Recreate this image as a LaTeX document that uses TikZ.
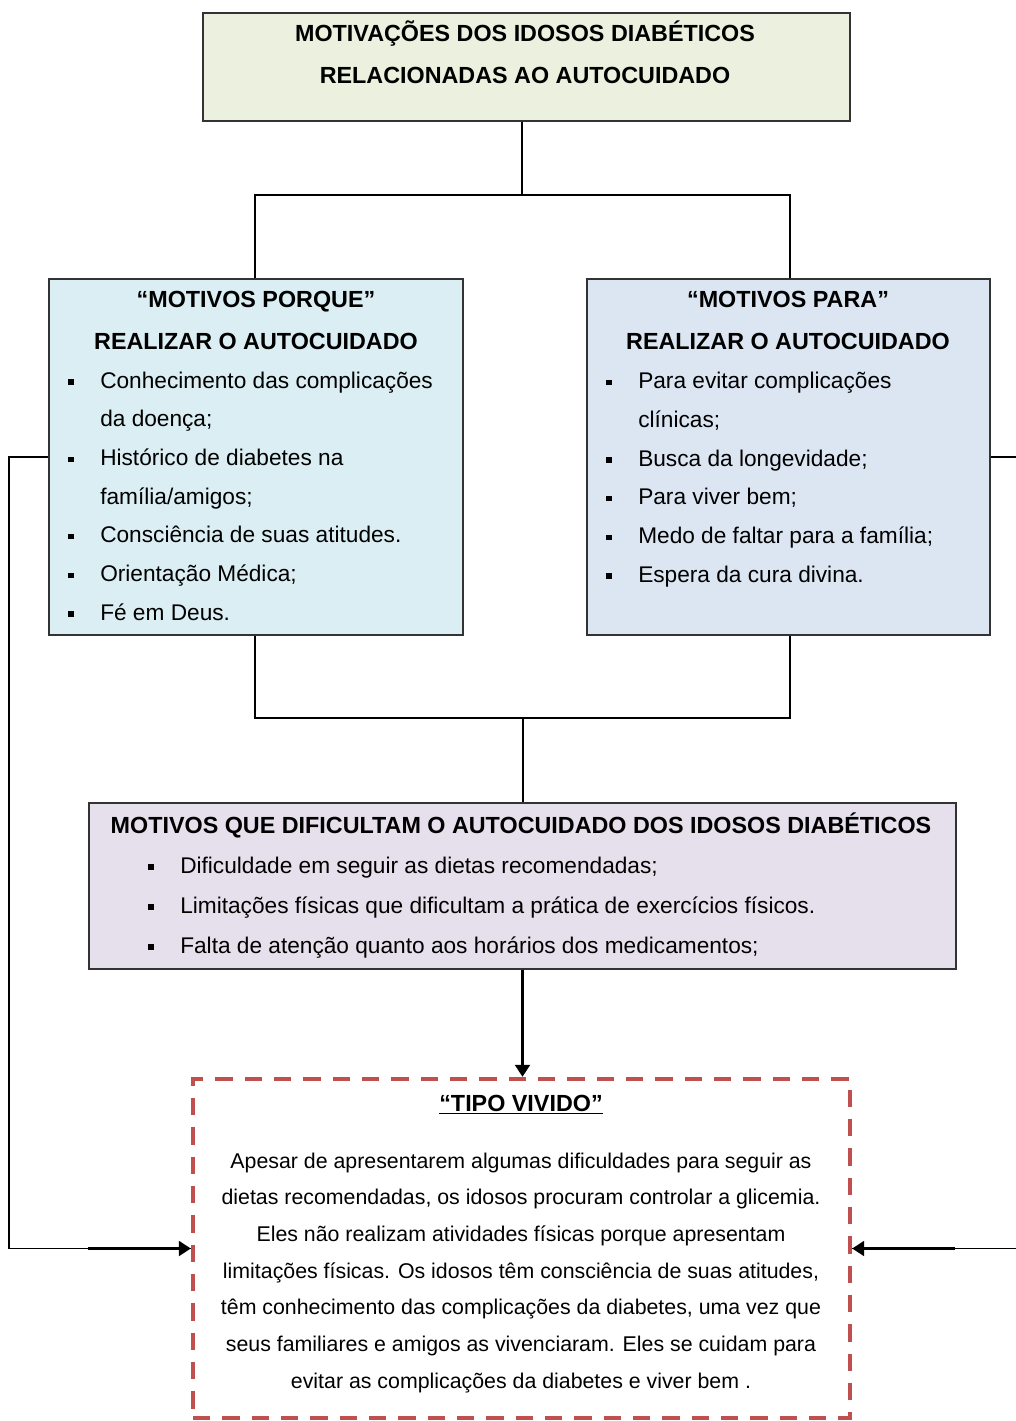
\documentclass[tikz,border=0pt]{standalone}
\usepackage{fontspec}
\setmainfont{Liberation Sans}
\usetikzlibrary{arrows.meta, fit, positioning}

\definecolor{verdeTopo}{HTML}{EBF1DE}
\definecolor{azulPorque}{HTML}{DBEEF3}
\definecolor{azulPara}{HTML}{DCE6F2}
\definecolor{lilasMeio}{HTML}{E5E0EC}
\definecolor{vermelhoVivido}{HTML}{C0504D}

% marcador quadrado das listas
\newcommand{\marca}{\llap{\rule[2.5pt]{4pt}{4pt}\hspace{20pt}}}

\tikzset{
    caixa/.style={draw=black!80, line width=1.1pt, inner sep=0pt},
    vivido/.style={draw=vermelhoVivido, line width=3.2pt, dash pattern=on 13pt off 9pt, inner sep=0pt},
    titulo/.style={font=\fontsize{17.5}{31.5}\selectfont\bfseries, align=center, anchor=base, inner sep=0pt},
    lista/.style={font=\fontsize{17}{29}\selectfont, align=left, anchor=base west, inner sep=0pt},
    liga/.style={line width=1.2pt},
    seta/.style={line width=2.2pt, -{Triangle[length=9pt, width=11pt]}},
}

\begin{document}
\begin{tikzpicture}[x=0.75pt, y={(0pt,-0.75pt)}]
    \path[use as bounding box, fill=white] (0,0) rectangle (1016,1421);

    % caixas
    \node[caixa, fill=verdeTopo, fit={(203,13) (850,121)}] (topo) {};
    \node[caixa, fill=azulPorque, fit={(49,279) (463,635)}] (esq) {};
    \node[caixa, fill=azulPara, fit={(587,279) (990,635)}] (dir) {};
    \node[caixa, fill=lilasMeio, fit={(89,803) (956,969)}] (meio) {};
    \node[vivido, fit={(193,1079) (850,1418)}] (tipo) {};

    % textos (ancora base = linha de base da ultima linha)
    \node[titulo] (topoTxt) at (525,83) {MOTIVAÇÕES DOS IDOSOS DIABÉTICOS\\RELACIONADAS AO AUTOCUIDADO};

    \node[titulo] (esqTit) at (256,349) {“MOTIVOS PORQUE”\\REALIZAR O AUTOCUIDADO};
    \node[lista] (esqLista) at (100,620) {\marca Conhecimento das complicações\\da doença;\\
        \marca Histórico de diabetes na\\família/amigos;\\
        \marca Consciência de suas atitudes.\\
        \marca Orientação Médica;\\
        \marca Fé em Deus.};

    \node[titulo] (dirTit) at (788,349) {“MOTIVOS PARA”\\REALIZAR O AUTOCUIDADO};
    \node[lista] (dirLista) at (638,582) {\marca Para evitar complicações\\clínicas;\\
        \marca Busca da longevidade;\\
        \marca Para viver bem;\\
        \marca Medo de faltar para a família;\\
        \marca Espera da cura divina.};

    \node[titulo] (meioTit) at (521,833) {MOTIVOS QUE DIFICULTAM O AUTOCUIDADO DOS IDOSOS DIABÉTICOS};
    \node[lista, font=\fontsize{17}{30}\selectfont] (meioLista) at (180,953) {\marca Dificuldade em seguir as dietas recomendadas;\\
        \marca Limitações físicas que dificultam a prática de exercícios físicos.\\
        \marca Falta de atenção quanto aos horários dos medicamentos;};

    \node[titulo] (tipoTit) at (521,1111) {\underline{“TIPO VIVIDO”}};
    \node[anchor=base, align=center, inner sep=0pt, font=\fontsize{16}{27.5}\selectfont] (tipoTxt) at (521,1388)
        {Apesar de apresentarem algumas dificuldades para seguir as\\
        dietas recomendadas, os idosos procuram controlar a glicemia.\\
        Eles não realizam atividades físicas porque apresentam\\
        limitações físicas. Os idosos têm consciência de suas atitudes,\\
        têm conhecimento das complicações da diabetes, uma vez que\\
        seus familiares e amigos as vivenciaram. Eles se cuidam para\\
        evitar as complicações da diabetes e viver bem .};

    % ligacoes
    \coordinate (juntaCima) at (522,195);
    \coordinate (juntaBaixo) at (523,718);
    \coordinate (colEsq) at (255,0);
    \coordinate (colDir) at (790,0);
    \coordinate (inicioEsq) at (88,1249);
    \coordinate (inicioDir) at (955,1249);

    \draw[line width=2pt] (juntaCima |- topo.south) -- (juntaCima);
    \draw[liga] (colEsq |- esq.north) |- (juntaCima) -| (colDir |- dir.north);
    \draw[liga] (colEsq |- esq.south) |- (juntaBaixo) -| (colDir |- dir.south);
    \draw[liga] (juntaBaixo) -- (meio.north -| juntaBaixo);
    \draw[seta] (meio.south) -- (meio.south |- tipo.north);

    \draw[liga] (esq.west) -- ++(-39,0) |- (tipo.west);
    \draw[seta] (inicioEsq |- tipo.west) -- (tipo.west);
    \draw[liga] (dir.east) -- ++(40,0) |- (tipo.east);
    \draw[seta] (inicioDir |- tipo.east) -- (tipo.east);
\end{tikzpicture}
\end{document}
